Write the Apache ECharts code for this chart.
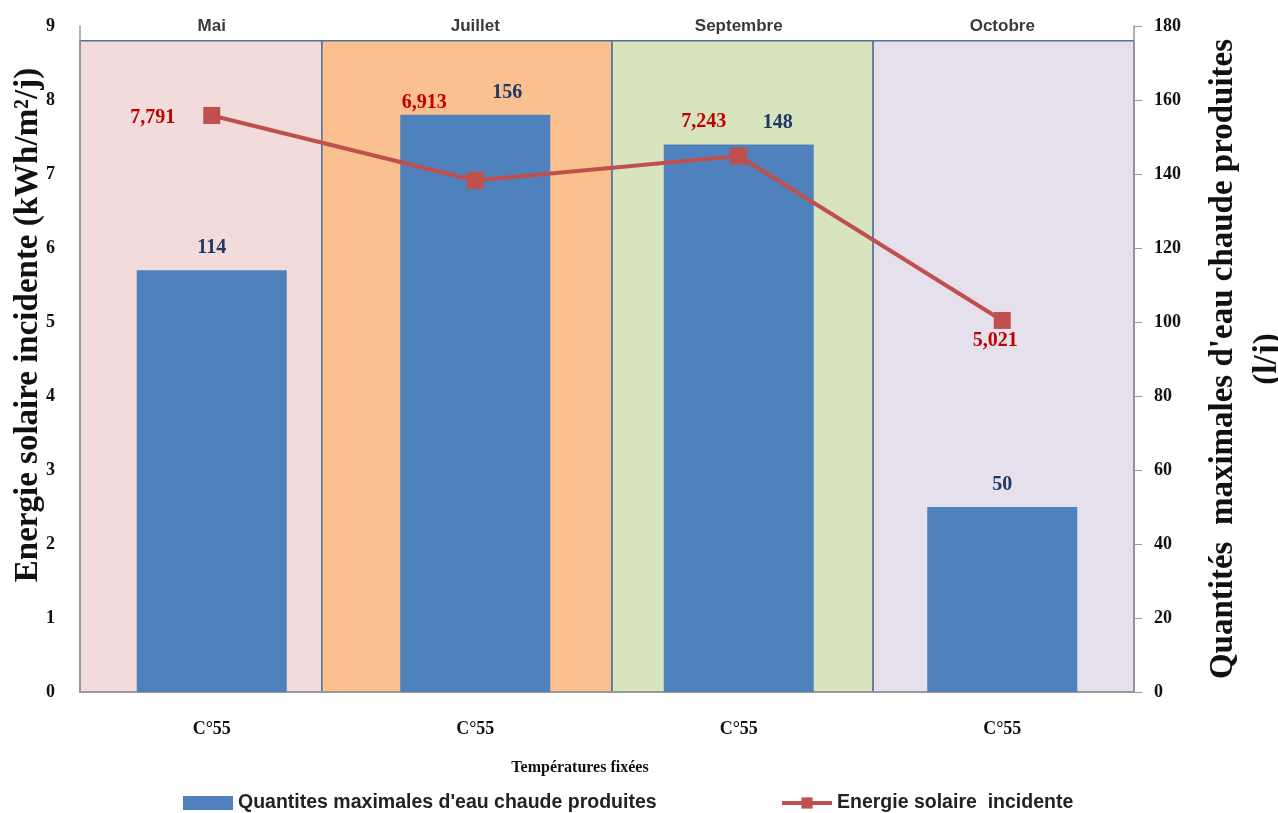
<!DOCTYPE html>
<html>
<head>
<meta charset="utf-8">
<script src="https://cdn.jsdelivr.net/npm/echarts@6/dist/echarts.min.js"></script>
<style>
html, body { margin: 0; padding: 0; background: #fff; }
#chart { width: 1278px; height: 813px; }
</style>
</head>
<body>
<div id="chart"></div>
<script>
// values
var months = ['Mai', 'Juillet', 'Septembre', 'Octobre'];
var tempLabels = ['C°55', 'C°55', 'C°55', 'C°55'];
var waterQty = [114, 156, 148, 50];
var solarEnergy = [7.791, 6.913, 7.243, 5.021];
// background boxes, edges in category units (category i sits at i)
var bandEdges = [-0.5, 0.418, 1.519, 2.51, 3.5];
var bandTop = 8.8;
var bandColors = ['#f2dcdb', '#fac090', '#d7e4bd', '#e5e0ec'];

// hand-placed label offsets as in the original
var barLabelShift = [[0, 0], [32, 0], [39, 0], [0, 0]];
var lineLabelShift = [[-59, 2], [-51, -78], [-35, -34], [-7, 20]];

var serif = '"Liberation Serif", "Times New Roman", serif';
var sans = '"Liberation Sans", Arial, sans-serif';

function fmtComma(v) {
    return v.toFixed(3).replace('.', ',');
}

var bandData = [];
for (var i = 0; i < months.length; i++) {
    bandData.push([bandEdges[i], bandEdges[i + 1], bandTop]);
}

var barData = waterQty.map(function (v, i) {
    return {
        value: v,
        label: { offset: barLabelShift[i] }
    };
});

var lineData = solarEnergy.map(function (v, i) {
    return {
        value: v,
        label: { offset: lineLabelShift[i] }
    };
});

var chart = echarts.init(document.getElementById('chart'));
var option = {
    animation: false,
    backgroundColor: '#fff',
    grid: {
        left: 80, right: 144, top: 26, bottom: 121,
        containLabel: false,
        outerBoundsMode: 'none'
    },
    legend: [{
        left: 178, top: 788,
        itemWidth: 50, itemHeight: 14,
        icon: 'rect',
        data: ["Quantites maximales d'eau chaude produites"],
        textStyle: { fontFamily: sans, fontWeight: 'bold', fontSize: 19.5, color: '#222' }
    }, {
        left: 775, top: 788,
        itemWidth: 50, itemHeight: 14,
        lineStyle: { width: 4 },
        data: ['Energie solaire  incidente'],
        textStyle: { fontFamily: sans, fontWeight: 'bold', fontSize: 19.5, color: '#222' }
    }],
    xAxis: [{
        type: 'category',
        position: 'bottom',
        data: months,
        axisLine: { onZero: false, lineStyle: { color: '#999', width: 2 } },
        axisTick: { show: false },
        axisLabel: {
            margin: 28,
            fontFamily: serif, fontWeight: 'bold', fontSize: 18, color: '#111',
            formatter: function (v, idx) { return tempLabels[idx]; }
        },
        name: 'Températures fixées',
        nameLocation: 'middle',
        nameGap: 68,
        nameMoveOverlap: false,
        nameTextStyle: {
            fontFamily: serif, fontWeight: 'bold', fontSize: 16, color: '#111',
            padding: [0, 54, 0, 0]
        }
    }, {
        type: 'category',
        position: 'top',
        offset: -15,
        data: months,
        axisLine: { show: false, onZero: false },
        axisTick: { show: false },
        axisLabel: {
            margin: 6,
            fontFamily: sans, fontWeight: 'bold', fontSize: 17, color: '#3a3a3a'
        }
    }, {
        type: 'value',
        show: false,
        min: -0.5,
        max: 3.5
    }],
    yAxis: [{
        type: 'value',
        position: 'left',
        min: 0, max: 9, interval: 1,
        splitLine: { show: false },
        axisLine: { show: true, onZero: false, lineStyle: { color: '#999', width: 1.5 } },
        axisTick: { show: false },
        axisLabel: {
            margin: 25,
            fontFamily: serif, fontWeight: 'bold', fontSize: 18, color: '#111'
        },
        name: 'Energie solaire incidente (kWh/m²/j)',
        nameLocation: 'middle',
        nameRotate: 90,
        nameGap: 35,
        nameMoveOverlap: false,
        nameTextStyle: {
            fontFamily: serif, fontWeight: 'bold', fontSize: 33, color: '#111',
            padding: [0, 0, 0, 68]
        }
    }, {
        type: 'value',
        position: 'right',
        min: 0, max: 180, interval: 20,
        splitLine: { show: false },
        axisLine: { show: true, onZero: false, lineStyle: { color: '#999', width: 1.5 } },
        axisTick: { show: true, length: 8, lineStyle: { color: '#999' } },
        axisLabel: {
            margin: 20,
            fontFamily: serif, fontWeight: 'bold', fontSize: 18, color: '#111'
        },
        name: "Quantités  maximales d'eau chaude produites\n(l/j)",
        nameLocation: 'middle',
        nameRotate: 90,
        nameGap: 67,
        nameMoveOverlap: false,
        nameTextStyle: {
            fontFamily: serif, fontWeight: 'bold', fontSize: 33, color: '#111',
            lineHeight: 44
        }
    }],
    series: [{
        type: 'custom',
        name: 'bands',
        xAxisIndex: 2,
        yAxisIndex: 0,
        z: 0,
        silent: true,
        data: bandData,
        renderItem: function (params, api) {
            var p0 = api.coord([api.value(0), api.value(2)]);
            var p1 = api.coord([api.value(1), 0]);
            return {
                type: 'rect',
                shape: { x: p0[0], y: p0[1], width: p1[0] - p0[0], height: p1[1] - p0[1] },
                style: { fill: bandColors[params.dataIndex], stroke: '#52729c', lineWidth: 1.5 }
            };
        }
    }, {
        type: 'bar',
        name: "Quantites maximales d'eau chaude produites",
        xAxisIndex: 0,
        yAxisIndex: 1,
        z: 2,
        barWidth: 150,
        itemStyle: { color: '#4f81bd' },
        label: {
            show: true,
            position: 'top',
            distance: 12,
            fontFamily: serif, fontWeight: 'bold', fontSize: 20, color: '#1f3864'
        },
        data: barData
    }, {
        type: 'line',
        name: 'Energie solaire  incidente',
        xAxisIndex: 0,
        yAxisIndex: 0,
        z: 3,
        symbol: 'rect',
        symbolSize: 17,
        lineStyle: { color: '#c0504d', width: 4 },
        itemStyle: { color: '#c0504d' },
        label: {
            show: true,
            position: 'inside',
            fontFamily: serif, fontWeight: 'bold', fontSize: 20, color: '#c00000',
            formatter: function (p) { return fmtComma(p.value); }
        },
        data: lineData
    }]
};
chart.setOption(option);
</script>
</body>
</html>
